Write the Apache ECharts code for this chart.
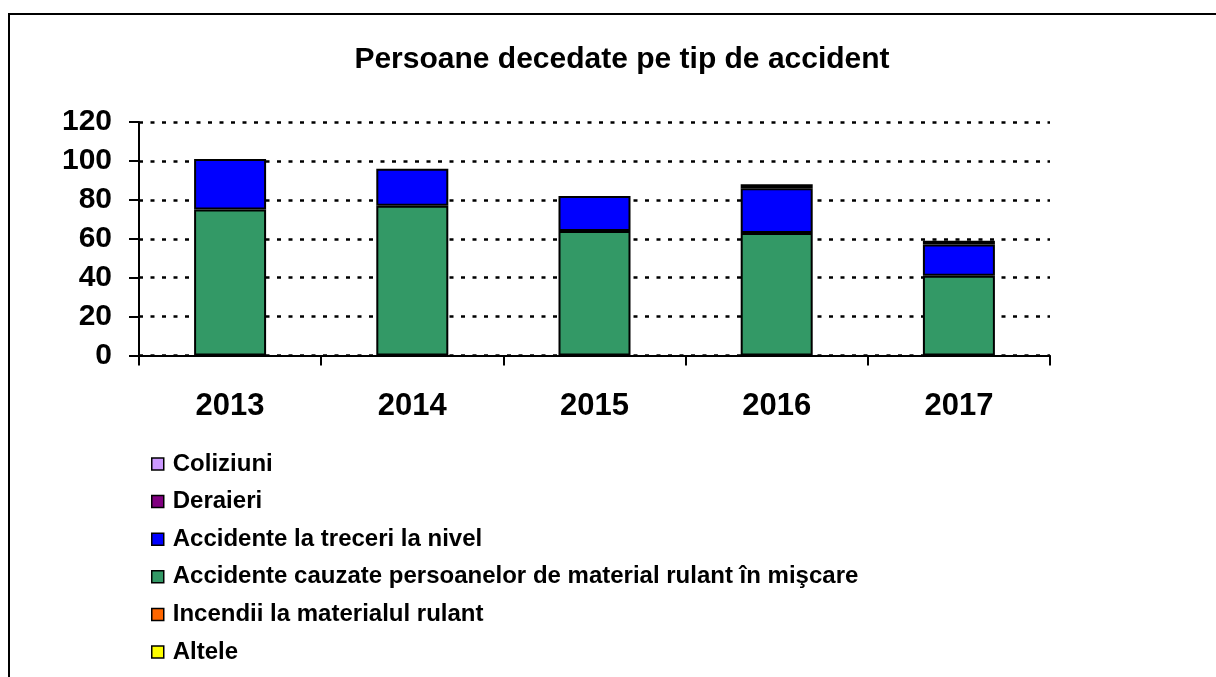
<!DOCTYPE html>
<html>
<head>
<meta charset="UTF-8">
<title>Persoane decedate pe tip de accident</title>
<style>
  html, body { margin: 0; padding: 0; background: #fff; }
  #chart { width: 1216px; height: 677px; }
</style>
</head>
<body>
<div id="chart"></div>
<script src="https://cdn.jsdelivr.net/npm/echarts@6/dist/echarts.min.js"></script>
<script>
// ani
var years = ['2013', '2014', '2015', '2016', '2017'];
// valori (persoane decedate)
var altele = [0, 0, 0, 0, 0];
var incendii = [0, 0, 0, 0, 0];
var cauzate = [75, 77, 64, 63, 41];
var treceri = [26, 19, 18, 23, 16];
var deraieri = [0, 0, 0, 0, 2];
var coliziuni = [0, 0, 0, 2, 0];
var yTicks = [0, 20, 40, 60, 80, 100, 120];

var names = {
  coliziuni: 'Coliziuni',
  deraieri: 'Deraieri',
  treceri: 'Accidente la treceri la nivel',
  cauzate: 'Accidente cauzate persoanelor de material rulant în mişcare',
  incendii: 'Incendii la materialul rulant',
  altele: 'Altele'
};

var font = '"Liberation Sans", Arial, sans-serif';

function bar(name, data, color) {
  return {
    name: name,
    type: 'bar',
    stack: 'total',
    // 0 = fara segment (nu desenam bordura goala)
    data: data.map(function (v) { return v === 0 ? '-' : v; }),
    barWidth: 72,
    itemStyle: { color: color, borderColor: '#000', borderWidth: 2 },
    emphasis: { disabled: true }
  };
}

var chart = echarts.init(document.getElementById('chart'));
var option = {
  animation: false,
  backgroundColor: '#fff',
  title: {
    text: 'Persoane decedate pe tip de accident',
    left: 617,
    textAlign: 'center',
    top: 40,
    textStyle: { fontFamily: font, fontSize: 30, fontWeight: 'bold', color: '#000' }
  },
  graphic: [{
    type: 'rect',
    shape: { x: 9, y: 14, width: 1400, height: 900 },
    style: { fill: 'none', stroke: '#000', lineWidth: 2 },
    silent: true
  }],
  legend: {
    orient: 'vertical',
    left: 146,
    top: 446,
    itemGap: 11.6,
    itemWidth: 12,
    itemHeight: 12,
    icon: 'rect',
    selectedMode: false,
    itemStyle: { borderColor: '#000', borderWidth: 1.5 },
    textStyle: { fontFamily: font, fontSize: 24, fontWeight: 'bold', color: '#000', lineHeight: 26, padding: [0, 0, 0, 4] },
    data: [names.coliziuni, names.deraieri, names.treceri, names.cauzate, names.incendii, names.altele]
  },
  grid: { left: 139, right: 166, top: 122, bottom: 321.5, containLabel: false },
  xAxis: {
    type: 'category',
    data: years,
    axisLine: { lineStyle: { color: '#000', width: 2 } },
    axisTick: { show: true, length: 10, lineStyle: { color: '#000', width: 2 } },
    axisLabel: { margin: 35, fontFamily: font, fontSize: 31, fontWeight: 'bold', color: '#000' },
    splitLine: { show: false }
  },
  yAxis: {
    type: 'value',
    min: yTicks[0],
    max: yTicks[yTicks.length - 1],
    interval: 20,
    axisLine: { show: true, lineStyle: { color: '#000', width: 2 } },
    axisTick: { show: true, length: 10, lineStyle: { color: '#000', width: 2 } },
    axisLabel: { margin: 27, fontFamily: font, fontSize: 30, fontWeight: 'bold', color: '#000' },
    splitLine: { show: true, lineStyle: { color: '#000', width: 2.5, type: [4, 7.5] } }
  },
  series: [
    bar(names.altele, altele, '#FFFF00'),
    bar(names.incendii, incendii, '#FF6600'),
    bar(names.cauzate, cauzate, '#339966'),
    bar(names.treceri, treceri, '#0000FF'),
    bar(names.deraieri, deraieri, '#800080'),
    bar(names.coliziuni, coliziuni, '#CC99FF')
  ]
};
chart.setOption(option);
</script>
</body>
</html>
